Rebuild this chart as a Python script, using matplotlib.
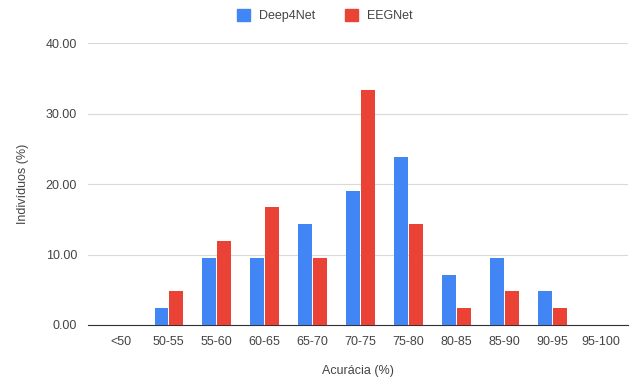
import numpy as np
import matplotlib.pyplot as plt
import matplotlib.patches as mpatches

categories = ['<50', '50-55', '55-60', '60-65', '65-70', '70-75',
              '75-80', '80-85', '85-90', '90-95', '95-100']
deep4net = [0, 2.38, 9.52, 9.52, 14.29, 19.05, 23.81, 7.14, 9.52, 4.76, 0]
eegnet = [0, 4.76, 11.90, 16.67, 9.52, 33.33, 14.29, 2.38, 4.76, 2.38, 0]
yticks = [0, 10, 20, 30, 40]

plt.rcParams['font.family'] = ['Liberation Sans', 'DejaVu Sans']
text_color = '#444444'
fs = 9

fig = plt.figure(figsize=(6.43, 3.81), dpi=100)
ax = fig.add_axes([0.137, 0.147, 0.84, 0.74])

x = np.arange(len(categories))
w = 0.28
ax.bar(x - 0.155, deep4net, w, color='#4285F4', zorder=3)
ax.bar(x + 0.155, eegnet, w, color='#EA4335', zorder=3)

ax.set_xlim(-0.68, len(categories) - 0.42)
ax.set_ylim(0, 40)
ax.set_yticks(yticks)
ax.set_yticklabels(['%.2f' % v for v in yticks])
ax.set_xticks(x)
ax.set_xticklabels(categories)
ax.tick_params(axis='both', length=0, labelsize=fs, colors=text_color, pad=8)
ax.grid(axis='y', color='#d9d9d9', linewidth=0.8, zorder=0)
for s in ['top', 'right', 'left']:
    ax.spines[s].set_visible(False)
ax.spines['bottom'].set_color('#333333')

ax.set_xlabel('Acurácia (%)', fontsize=fs, color=text_color, labelpad=12)
ax.set_ylabel('Indivíduos (%)', fontsize=fs, color=text_color, labelpad=12)

handles = [mpatches.Patch(color='#4285F4', label='Deep4Net'),
           mpatches.Patch(color='#EA4335', label='EEGNet')]
fig.legend(handles=handles, loc='upper center', bbox_to_anchor=(0.505, 1.005),
           ncol=2, frameon=False, fontsize=fs, handlelength=1.05,
           handleheight=1.05, columnspacing=2.4, handletextpad=0.7,
           labelcolor=text_color)

fig.savefig('out.png', dpi=100)
